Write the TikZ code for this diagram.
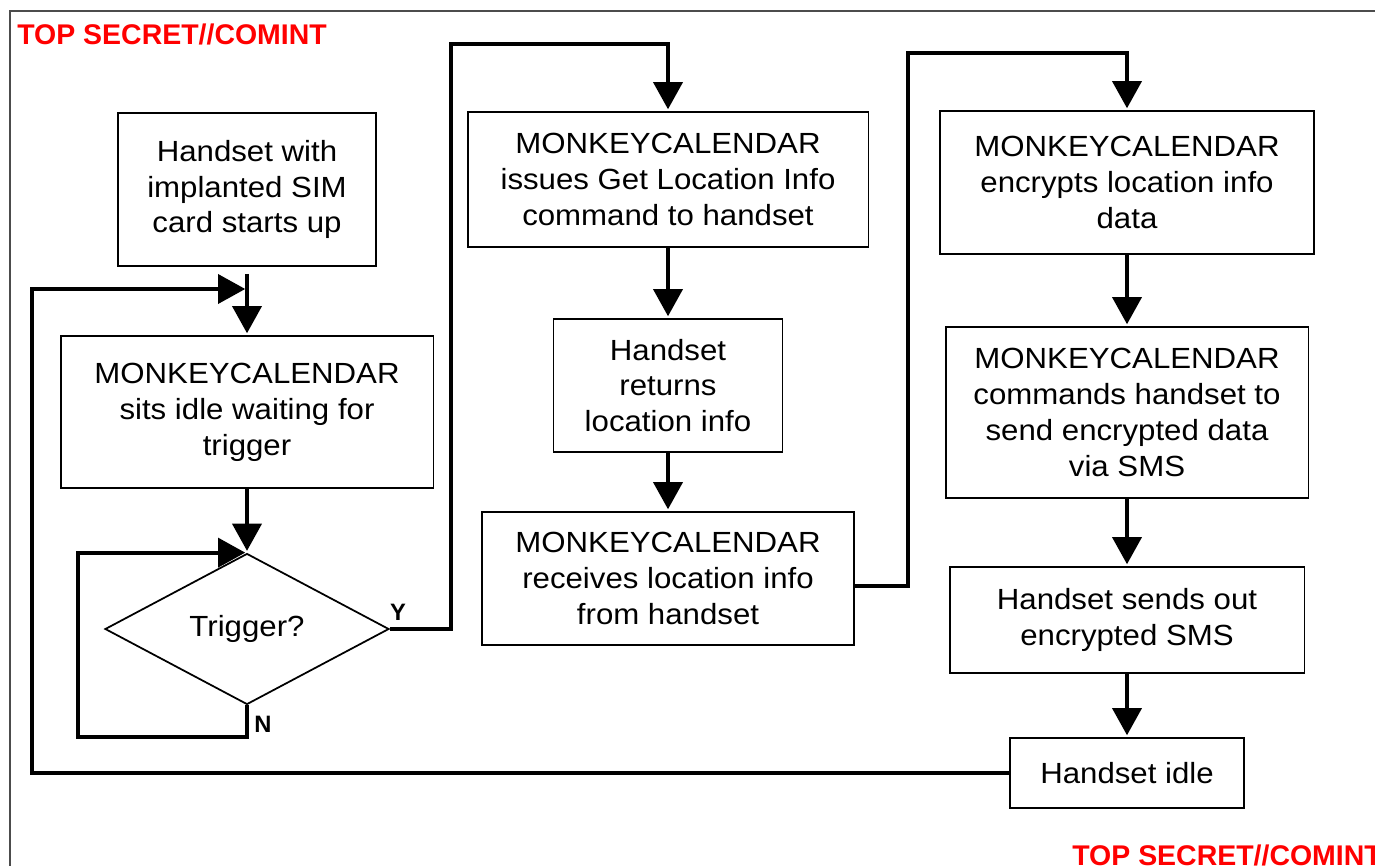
\documentclass[tikz,border=0pt]{standalone}
\usepackage{fontspec}
\setmainfont{Liberation Sans}
\newfontfamily\boxfont[FakeStretch=1.07]{Liberation Sans}
\usetikzlibrary{arrows.meta,shapes.geometric}

\begin{document}
\begin{tikzpicture}[x=0.02cm,y=-0.02cm,shorten >=1pt,
  stepbox/.style={draw,line width=1.1pt,align=center,inner sep=2pt,
    font=\boxfont\fontsize{16.6}{20.4}\selectfont},
  decision/.style={stepbox,diamond,line width=1pt,aspect=1.88},
  flow/.style={line width=2.3pt,-{Triangle[length=15.5pt,width=16.5pt]}},
  yn/.style={font=\bfseries\fontsize{13.5}{16}\selectfont,inner sep=0pt},
  classif/.style={text=red,font=\bfseries\fontsize{16.2}{19}\selectfont,inner sep=0pt}]
  \useasboundingbox (0,0) rectangle (1375,868);
  \draw[line width=1.1pt,black!70] (1375,11) -- (10,11) -- (10,868);
  \node[classif,anchor=base west] (tsTop) at (17,45) {TOP SECRET//COMINT};
  \node[classif,anchor=base west] (tsBot) at (1072,865) {TOP SECRET//COMINT};

  \node[stepbox,minimum width=5.16cm,minimum height=3.06cm] (start) at (247,189.5) {Handset with\\implanted SIM\\card starts up};
  \node[stepbox,minimum width=7.46cm,minimum height=3.04cm] (idle) at (247,412) {MONKEYCALENDAR\\sits idle waiting for\\trigger};
  \node[decision,minimum width=5.68cm,minimum height=3.02cm] (trig) at (247,629) {Trigger?};
  \node[stepbox,minimum width=8.02cm,minimum height=2.70cm] (getloc) at (668,179.5) {MONKEYCALENDAR\\issues Get Location Info\\command to handset};
  \node[stepbox,minimum width=4.58cm,minimum height=2.66cm] (returns) at (668,385.5) {Handset\\returns\\location info};
  \node[stepbox,minimum width=7.44cm,minimum height=2.66cm] (receives) at (668,578.5) {MONKEYCALENDAR\\receives location info\\from handset};
  \node[stepbox,minimum width=7.48cm,minimum height=2.86cm] (encrypts) at (1127,182.5) {MONKEYCALENDAR\\encrypts location info\\data};
  \node[stepbox,minimum width=7.26cm,minimum height=3.42cm] (commands) at (1127,412.5) {MONKEYCALENDAR\\commands handset to\\send encrypted data\\via SMS};
  \node[stepbox,minimum width=7.10cm,minimum height=2.12cm] (sends) at (1127,620) {Handset sends out\\encrypted SMS};
  \node[stepbox,minimum width=4.68cm,minimum height=1.40cm] (hidle) at (1127,773) {Handset idle};
  \node[yn] (yLab) at (398,612) {Y};
  \node[yn] (nLab) at (263,724) {N};

  \coordinate (jn) at (247,289);
  \coordinate (lb) at (32,500);
  \coordinate (nb) at (247,737);
  \coordinate (nl) at (78,640);
  \coordinate (ya) at (451,44);
  \coordinate (rk) at (908,53);

  \draw[flow,shorten <=4pt] (start) -- (idle);
  \path[flow] (idle) edge (trig)
    (getloc) edge (returns)
    (returns) edge (receives)
    (encrypts) edge (commands)
    (commands) edge (sends)
    (sends) edge (hidle);
  \draw[flow] (trig.east) -| (ya) -| (getloc.north);
  \draw[flow] (trig.south) -- (nb) -| (nl) |- (trig.north);
  \draw[flow] ([yshift=-4.5pt]receives.east) -| (rk) -| (encrypts.north);
  \draw[flow] (hidle.west) -| (lb) |- (jn);
\end{tikzpicture}
\end{document}
